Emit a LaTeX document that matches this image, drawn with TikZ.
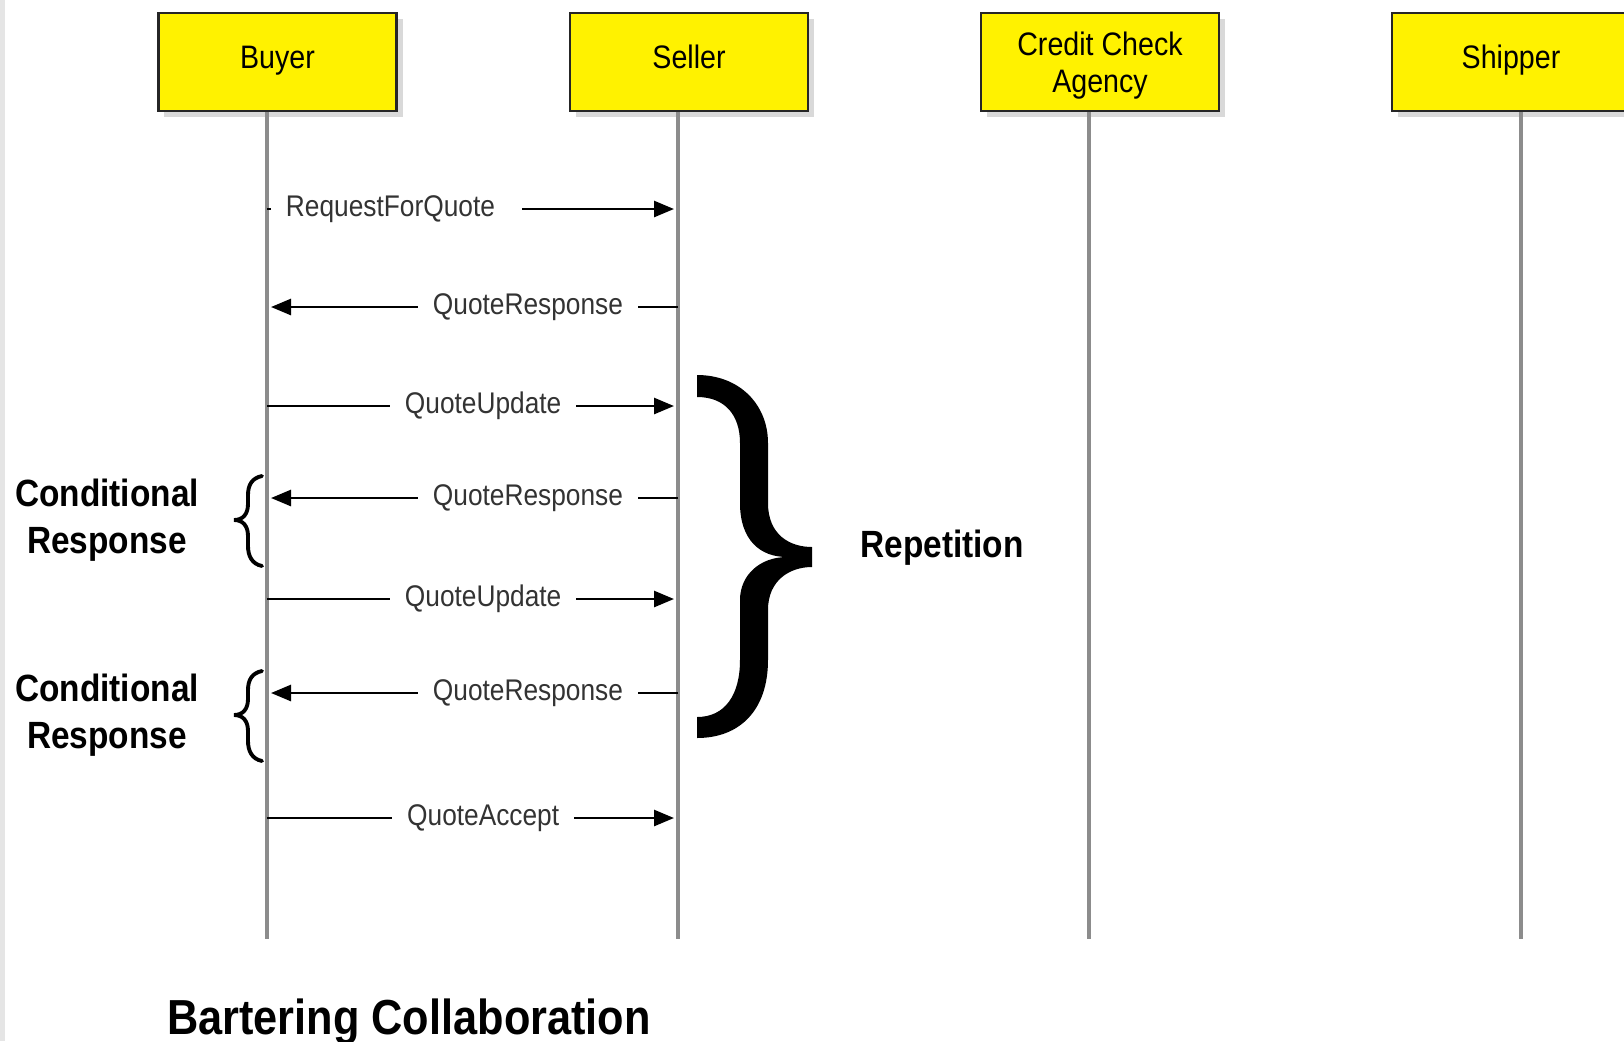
\documentclass[tikz,border=0pt]{standalone}
\usepackage{fontspec}
\setmainfont{Liberation Sans}[FakeStretch=0.88]
\usetikzlibrary{arrows.meta,shadows}

\tikzset{
  actor/.style={draw=black!85, line width=0.6pt, fill=yellow, minimum width=2.38cm,
    minimum height=0.98cm, align=center, font=\fontsize{9.25}{10.5}\selectfont,
    drop shadow={shadow xshift=0.06cm, shadow yshift=-0.06cm, opacity=0.3}},
  oneline/.style={text height=6.6pt, text depth=2.8pt},
  life/.style={draw=black!45, line width=1pt},
  msg/.style={draw=black, line width=0.75pt, -{Triangle[length=0.2cm,width=0.16cm]}, shorten >=0.04cm},
  lbl/.style={fill=white, inner xsep=0.15cm, inner ysep=1pt, text=black!80, font=\fontsize{8.5}{10}\selectfont},
  note/.style={align=center, font=\bfseries\fontsize{10.8}{13.3}\selectfont},
  cbrace/.style={draw, line width=1.1pt, line cap=round},
}

\begin{document}
\begin{tikzpicture}
\useasboundingbox (0,0) rectangle (16.24,-10.41);
\fill[black!10] (0,0) rectangle (0.05,-10.41);

% participants
\node[actor, oneline] (buyer) at (2.775,-0.62) {Buyer};
\node[actor, oneline] (seller) at (6.89,-0.62) {Seller};
\node[actor] (credit) at (11.00,-0.62) {\rule{0pt}{8.8pt}Credit Check\\Agency};
\node[actor, oneline] (shipper) at (15.11,-0.62) {Shipper};

% lifelines
\coordinate (bEnd) at (2.67,-9.39); \coordinate (sEnd) at (6.78,-9.39);
\coordinate (cEnd) at (10.89,-9.39); \coordinate (pEnd) at (15.21,-9.39);
\draw[life] (bEnd |- buyer.south) -- (bEnd);
\draw[life] (sEnd |- seller.south) -- (sEnd);
\draw[life] (cEnd |- credit.south) -- (cEnd);
\draw[life] (pEnd |- shipper.south) -- (pEnd);

% messages
\coordinate (b1) at (2.67,-2.09); \coordinate (s1) at (6.78,-2.09);
\coordinate (b2) at (2.67,-3.07); \coordinate (s2) at (6.78,-3.07);
\coordinate (b3) at (2.67,-4.06); \coordinate (s3) at (6.78,-4.06);
\coordinate (b4) at (2.67,-4.98); \coordinate (s4) at (6.78,-4.98);
\coordinate (b5) at (2.67,-5.99); \coordinate (s5) at (6.78,-5.99);
\coordinate (b6) at (2.67,-6.93); \coordinate (s6) at (6.78,-6.93);
\coordinate (b7) at (2.67,-8.18); \coordinate (s7) at (6.78,-8.18);
\draw[msg] (b1) -- node[lbl, pos=0.315] (m1) {RequestForQuote\hspace*{0.12cm}} (s1);
\draw[msg] (s2) -- node[lbl, pos=0.365] (m2) {QuoteResponse} (b2);
\draw[msg] (b3) -- node[lbl, pos=0.526] (m3) {QuoteUpdate} (s3);
\draw[msg] (s4) -- node[lbl, pos=0.365] (m4) {QuoteResponse} (b4);
\draw[msg] (b5) -- node[lbl, pos=0.526] (m5) {QuoteUpdate} (s5);
\draw[msg] (s6) -- node[lbl, pos=0.365] (m6) {QuoteResponse} (b6);
\draw[msg] (b7) -- node[lbl, pos=0.526] (m7) {QuoteAccept} (s7);

% conditional responses
\node[note] (cond1) at (1.07,-5.20) {Conditional\\Response};
\node[note] (cond2) at (1.07,-7.15) {Conditional\\Response};
\draw[cbrace] (2.62,-4.76) .. controls (2.52,-4.78) and (2.48,-4.85) .. (2.48,-4.95) -- (2.48,-5.04)
  .. controls (2.48,-5.14) and (2.43,-5.20) .. (2.34,-5.20)
  .. controls (2.43,-5.20) and (2.48,-5.26) .. (2.48,-5.36) -- (2.48,-5.46)
  .. controls (2.48,-5.56) and (2.52,-5.64) .. (2.62,-5.66);
\draw[cbrace, yshift=-1.95cm] (2.62,-4.76) .. controls (2.52,-4.78) and (2.48,-4.85) .. (2.48,-4.95) -- (2.48,-5.04)
  .. controls (2.48,-5.14) and (2.43,-5.20) .. (2.34,-5.20)
  .. controls (2.43,-5.20) and (2.48,-5.26) .. (2.48,-5.36) -- (2.48,-5.46)
  .. controls (2.48,-5.56) and (2.52,-5.64) .. (2.62,-5.66);

% repetition brace
\fill (6.97,-3.75) .. controls (7.40,-3.75) and (7.68,-4.05) .. (7.68,-4.43) -- (7.68,-5.03)
  .. controls (7.68,-5.35) and (7.90,-5.47) .. (8.12,-5.47) -- (8.12,-5.67)
  .. controls (7.90,-5.67) and (7.68,-5.80) .. (7.68,-6.10) -- (7.68,-6.60)
  .. controls (7.68,-7.10) and (7.40,-7.38) .. (6.97,-7.38) -- (6.97,-7.17)
  .. controls (7.25,-7.17) and (7.40,-6.95) .. (7.40,-6.60) -- (7.40,-6.00)
  .. controls (7.40,-5.75) and (7.60,-5.57) .. (7.87,-5.57)
  .. controls (7.60,-5.57) and (7.40,-5.40) .. (7.40,-5.03) -- (7.40,-4.43)
  .. controls (7.40,-4.15) and (7.25,-3.97) .. (6.97,-3.97) -- cycle;
\node[note] (rep) at (9.42,-5.48) {Repetition};

\node[font=\bfseries\fontsize{14}{16}\selectfont, anchor=base] (title) at (4.09,-10.34) {Bartering Collaboration};
\end{tikzpicture}
\end{document}
